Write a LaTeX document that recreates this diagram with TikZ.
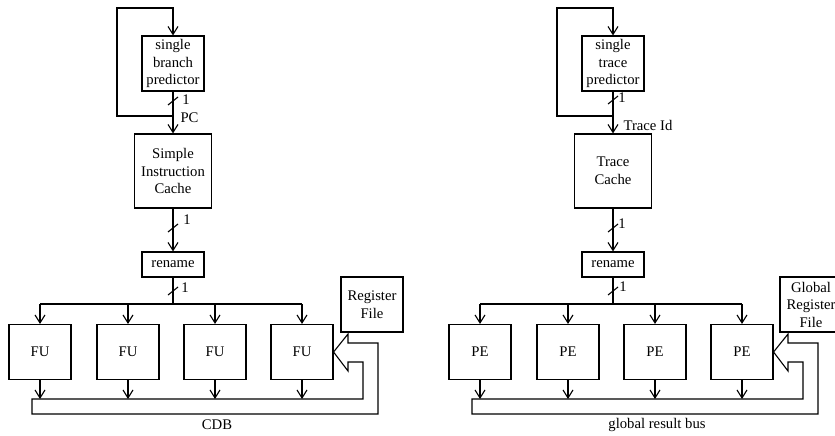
\documentclass[tikz,border=0pt]{standalone}
\usepackage{fontspec}
\setmainfont{Liberation Serif}
\usetikzlibrary{arrows.meta}
\begin{document}
\begin{tikzpicture}[x=1pt,y=-1pt,line width=1.1pt,
  every node/.style={font=\fontsize{14.7}{17.5}\selectfont},
  box/.style={draw,line width=1.1pt,align=center,inner sep=0pt},
  bigbox/.style={box,minimum width=62pt,minimum height=55pt},
  cachebox/.style={box,minimum width=77pt,minimum height=74pt},
  renbox/.style={box,minimum width=62pt,minimum height=25pt},
  arr/.style={-{Straight Barb[length=8pt,width=10pt]}},
  lbl/.style={inner sep=0pt}]
\useasboundingbox (0,0) rectangle (835,436);
\clip (0,0) rectangle (835,436);
% ---------------- left diagram ----------------
\begin{scope}
\node[bigbox] (predL) at (173,63.5) {single\\branch\\predictor};
\node[cachebox] (cacheL) at (173,171) {Simple\\Instruction\\Cache};
\node[renbox] (renL) at (173,264.5) {rename};
\node[bigbox] (fuLa) at (40,352) {FU};
\node[bigbox] (fuLb) at (128,352) {FU};
\node[bigbox] (fuLc) at (215,352) {FU};
\node[bigbox] (fuLd) at (302,352) {FU};
\node[bigbox] (regL) at (372,304.5) {Register\\File};
\coordinate (jL) at (173,116);
\coordinate (bL) at (173,304);
\coordinate (dL) at (0,399);
\draw[arr] (predL.south) -- (cacheL.north);
\draw[arr] (jL) -- (117,116) -- (117,8) -- (173,8) -- (predL.north);
\draw (168,105) -- (178,97);
\node[lbl] (oneLa) at (186,100) {1};
\node[lbl,anchor=west] (pcL) at (180,117.5) {PC};
\draw[arr] (cacheL.south) -- (renL.north);
\draw (168,232) -- (178,224);
\node[lbl] (oneLb) at (187,220) {1};
\draw (renL.south) -- (bL);
\draw (168,295) -- (178,287);
\node[lbl] (oneLc) at (185,288) {1};
\draw (fuLa.north |- bL) -- (fuLd.north |- bL);
\foreach \n in {fuLa,fuLb,fuLc,fuLd}{
  \draw[arr] (\n.north |- bL) -- (\n.north);
  \draw[arr] (\n.south) -- (\n.south |- dL);
}
\draw[line join=miter] (32,399) -- (363,399) -- (363,362) -- (348,362) -- (348,371) -- (fuLd.east)
  -- (348,334) -- (348,343) -- (378,343) -- (378,414) -- (32,414) -- cycle;
\node[lbl] (cdb) at (217,425) {CDB};
\end{scope}
% ---------------- right diagram ----------------
\begin{scope}[xshift=440pt]
\node[bigbox] (predR) at (173,63.5) {single\\trace\\predictor};
\node[cachebox] (cacheR) at (173,171) {Trace\\Cache};
\node[renbox] (renR) at (173,264.5) {rename};
\node[bigbox] (peRa) at (40,352) {PE};
\node[bigbox] (peRb) at (128,352) {PE};
\node[bigbox] (peRc) at (215,352) {PE};
\node[bigbox] (peRd) at (302,352) {PE};
\node[bigbox] (regR) at (371,304.5) {Global\\Register\\File};
\coordinate (jR) at (173,116);
\coordinate (bR) at (173,304);
\coordinate (dR) at (0,399);
\draw[arr] (predR.south) -- (cacheR.north);
\draw[arr] (jR) -- (117,116) -- (117,8) -- (173,8) -- (predR.north);
\draw (168,104) -- (178,96);
\node[lbl] (oneRa) at (182,98) {1};
\node[lbl,anchor=west] (tid) at (183,125) {Trace Id};
\draw[arr] (cacheR.south) -- (renR.north);
\draw (168,232) -- (178,224);
\node[lbl] (oneRb) at (182,224) {1};
\draw (renR.south) -- (bR);
\draw (168,295) -- (178,287);
\node[lbl] (oneRc) at (183,287) {1};
\draw (peRa.north |- bR) -- (peRd.north |- bR);
\foreach \n in {peRa,peRb,peRc,peRd}{
  \draw[arr] (\n.north |- bR) -- (\n.north);
  \draw[arr] (\n.south) -- (\n.south |- dR);
}
\draw[line join=miter] (32,399) -- (363,399) -- (363,362) -- (348,362) -- (348,371) -- (peRd.east)
  -- (348,334) -- (348,343) -- (378,343) -- (378,414) -- (32,414) -- cycle;
\node[lbl] (grb) at (217,425) {global result bus};
\end{scope}
\end{tikzpicture}
\end{document}
